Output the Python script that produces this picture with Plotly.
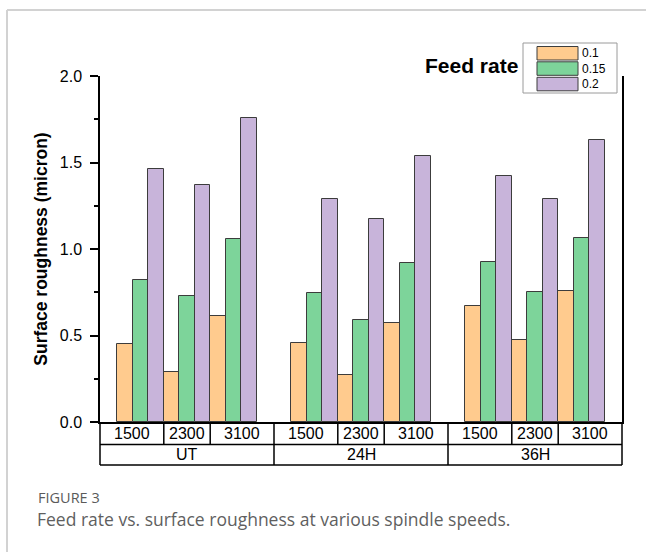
import plotly.graph_objects as go

# --- data -------------------------------------------------------------
groups = ["UT", "24H", "36H"]
speeds = ["1500", "2300", "3100"]
feed_rates = ["0.1", "0.15", "0.2"]

roughness_f01 = [0.45, 0.29, 0.615, 0.455, 0.27, 0.57, 0.67, 0.475, 0.76]
roughness_f015 = [0.82, 0.73, 1.06, 0.745, 0.59, 0.92, 0.925, 0.75, 1.065]
roughness_f02 = [1.46, 1.37, 1.76, 1.29, 1.175, 1.535, 1.42, 1.29, 1.63]

series = [roughness_f01, roughness_f015, roughness_f02]
colors = ["#FFCB8E", "#7DD49A", "#C8B4DA"]

y_ticks = [0.0, 0.5, 1.0, 1.5, 2.0]

# --- layout geometry --------------------------------------------------
W, H = 646, 552
L, R, T, B = 100, 24, 76, 130
PW, PH = W - L - R, H - T - B

GROUP_STEP = len(speeds) + 0.75
x_pos = [g * GROUP_STEP + s for g in range(len(groups)) for s in range(len(speeds))]
X_MIN = x_pos[0] - 0.875
X_MAX = x_pos[-1] + 0.875


def px_x(px):
    return (px - L) / PW


def px_y(py):
    return (T + PH - py) / PH


def data_x(x):
    return (x - X_MIN) / (X_MAX - X_MIN)


FONT = "Liberation Sans, Arial, sans-serif"

fig = go.Figure()
for name, vals, col in zip(feed_rates, series, colors):
    fig.add_trace(go.Bar(
        x=x_pos, y=vals, name=name,
        marker=dict(color=col, line=dict(color="#3c3c3c", width=1)),
        showlegend=False,
    ))

shapes = []
annotations = []
line_k = dict(color="black", width=1.5)

# category table under the axis
row1_y = px_y(T + PH + 22.5)
row2_y = px_y(T + PH + 43)
top_y = 0.0
shapes.append(dict(type="line", xref="paper", yref="paper", x0=0, x1=1, y0=row1_y, y1=row1_y, line=line_k))
shapes.append(dict(type="line", xref="paper", yref="paper", x0=0, x1=1, y0=row2_y, y1=row2_y, line=line_k))
shapes.append(dict(type="line", xref="paper", yref="paper", x0=0, x1=0, y0=top_y, y1=row2_y, line=line_k))
shapes.append(dict(type="line", xref="paper", yref="paper", x0=1, x1=1, y0=top_y, y1=row2_y, line=line_k))

n_s = len(speeds)
for g in range(len(groups)):
    base = g * GROUP_STEP
    # separators between speed cells
    for s in range(n_s - 1):
        xs = data_x(base + s + 0.5)
        shapes.append(dict(type="line", xref="paper", yref="paper", x0=xs, x1=xs,
                           y0=top_y, y1=row1_y, line=line_k))
    # separator between groups
    if g < len(groups) - 1:
        xg = data_x(base + n_s - 0.5 + (GROUP_STEP - n_s) / 2)
        shapes.append(dict(type="line", xref="paper", yref="paper", x0=xg, x1=xg,
                           y0=top_y, y1=row2_y, line=line_k))
    g_left = 0.0 if g == 0 else data_x(base - 0.5 - (GROUP_STEP - n_s) / 2)
    g_right = 1.0 if g == len(groups) - 1 else data_x(base + n_s - 0.5 + (GROUP_STEP - n_s) / 2)
    # speed labels centred in their cells
    for s, sp in enumerate(speeds):
        c_left = g_left if s == 0 else data_x(base + s - 0.5)
        c_right = g_right if s == n_s - 1 else data_x(base + s + 0.5)
        annotations.append(dict(text=sp, xref="paper", yref="paper",
                                x=(c_left + c_right) / 2, y=(top_y + row1_y) / 2,
                                showarrow=False, xanchor="center", yanchor="middle",
                                font=dict(family=FONT, size=16, color="black")))
    annotations.append(dict(text=groups[g], xref="paper", yref="paper",
                            x=(g_left + g_right) / 2, y=(row1_y + row2_y) / 2,
                            showarrow=False, xanchor="center", yanchor="middle",
                            font=dict(family=FONT, size=16, color="black")))

# legend box with wide swatches
shapes.append(dict(type="rect", xref="paper", yref="paper",
                   x0=px_x(523), x1=px_x(617), y0=px_y(43), y1=px_y(93),
                   line=dict(color="#9a9a9a", width=1), fillcolor="white"))
row_tops = [46.5, 61.8, 77.3]
for top, col in zip(row_tops, colors):
    shapes.append(dict(type="rect", xref="paper", yref="paper",
                       x0=px_x(537), x1=px_x(578), y0=px_y(top), y1=px_y(top + 13.5),
                       line=dict(color="#3c3c3c", width=1), fillcolor=col))
# the three legend names stacked in one text block (line pitch 1.3 em)
annotations.append(dict(text="<br>".join(feed_rates), xref="paper", yref="paper",
                        x=px_x(580), y=px_y(68.5), showarrow=False,
                        xanchor="left", yanchor="middle", align="left",
                        font=dict(family=FONT, size=12, color="black")))
annotations.append(dict(text="<b>Feed rate</b>", xref="paper", yref="paper",
                        x=px_x(520), y=px_y(66), showarrow=False,
                        xanchor="right", yanchor="middle",
                        font=dict(family=FONT, size=21, color="black")))

# page frame lines
frame = dict(color="#d2d2d2", width=2)
shapes.append(dict(type="line", xref="paper", yref="paper", x0=px_x(7), x1=px_x(W),
                   y0=px_y(10), y1=px_y(10), line=frame))
shapes.append(dict(type="line", xref="paper", yref="paper", x0=px_x(7), x1=px_x(7),
                   y0=px_y(10), y1=px_y(H), line=frame))

# figure caption
annotations.append(dict(text="FIGURE 3", xref="paper", yref="paper",
                        x=px_x(36), y=px_y(497), showarrow=False,
                        xanchor="left", yanchor="middle",
                        font=dict(family="Open Sans, sans-serif", size=14.5, color="#5a5a5a")))
annotations.append(dict(text="Feed rate vs. surface roughness at various spindle speeds.",
                        xref="paper", yref="paper", x=px_x(35), y=px_y(519), showarrow=False,
                        xanchor="left", yanchor="middle",
                        font=dict(family="Open Sans, sans-serif", size=17.5, color="#5f5f5f")))

fig.update_layout(
    width=W, height=H,
    margin=dict(l=L, r=R, t=T, b=B),
    paper_bgcolor="white", plot_bgcolor="white",
    barmode="group", bargap=0, bargroupgap=0,
    shapes=shapes, annotations=annotations,
    font=dict(family=FONT, color="black"),
)
fig.update_xaxes(range=[X_MIN, X_MAX], showline=True, linecolor="black", linewidth=1.5,
                 showticklabels=False, ticks="", showgrid=False, zeroline=False)
fig.update_yaxes(
    range=[0, 2.0], tickvals=y_ticks, tickformat=".1f",
    showline=True, linecolor="black", linewidth=1.5, mirror=True,
    ticks="outside", ticklen=8, tickwidth=1.5, tickcolor="black",
    minor=dict(dtick=0.25, tick0=0, ticks="outside", ticklen=4, tickwidth=1.5,
               tickcolor="black", showgrid=False),
    ticklabelstandoff=5,
    tickfont=dict(family=FONT, size=16, color="black"),
    showgrid=False, zeroline=False,
    title=dict(text="<b>Surface roughness (micron)</b>", standoff=8,
               font=dict(family=FONT, size=17.5, color="black")),
)

fig.write_html("out.html")
